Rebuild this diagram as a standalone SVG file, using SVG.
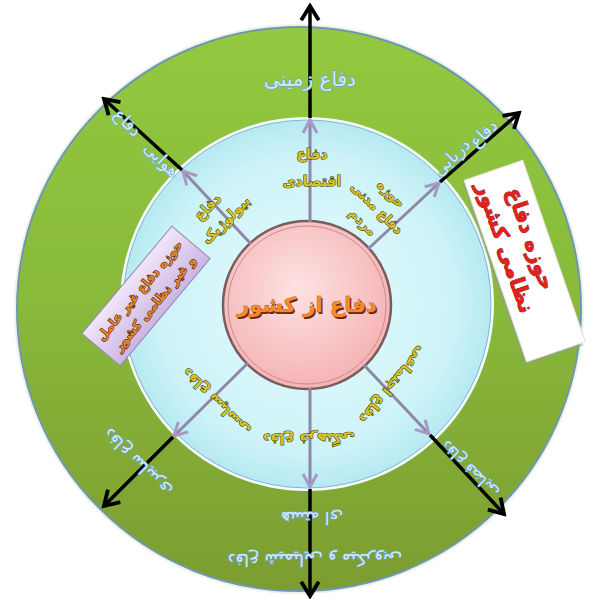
<svg xmlns="http://www.w3.org/2000/svg" width="595" height="600" viewBox="0 0 595 600">
<defs>
<linearGradient id="gOuter" x1="0" y1="0" x2="0" y2="1">
<stop offset="0" stop-color="#93c93f"/>
<stop offset="0.5" stop-color="#88b93a"/>
<stop offset="1" stop-color="#7c9c30"/>
</linearGradient>
<radialGradient id="gInner" cx="0.5" cy="0.5" r="0.5">
<stop offset="0" stop-color="#e6fbfd"/>
<stop offset="0.8" stop-color="#cdf3f8"/>
<stop offset="1" stop-color="#b6e9f2"/>
</radialGradient>
<radialGradient id="gPink" cx="0.45" cy="0.4" r="0.6">
<stop offset="0" stop-color="#fde2e2"/>
<stop offset="1" stop-color="#f5b3b5"/>
</radialGradient>
<linearGradient id="gLav" x1="0" y1="0" x2="0" y2="1">
<stop offset="0" stop-color="#f0e6f8"/>
<stop offset="1" stop-color="#cbb5e2"/>
</linearGradient>
<marker id="mBlack" viewBox="0 0 20 20" refX="17" refY="10" markerWidth="22" markerHeight="22" markerUnits="userSpaceOnUse" orient="auto">
<path d="M4,2 L17,10 L4,18" fill="none" stroke="#000" stroke-width="3.5" stroke-linejoin="miter"/>
</marker>
<marker id="mPurple" viewBox="0 0 20 20" refX="17" refY="10" markerWidth="20" markerHeight="20" markerUnits="userSpaceOnUse" orient="auto">
<path d="M4,3 L17,10 L4,17" fill="none" stroke="#a898c4" stroke-width="3"/>
</marker>
</defs>
<style>
.outerT{font-family:"DejaVu Sans",sans-serif;font-size:17px;fill:#cfe9fb;stroke:#6fa3d2;stroke-width:1.3;paint-order:stroke;text-anchor:middle}
.innerT{font-family:"DejaVu Sans",sans-serif;font-size:14px;font-weight:bold;fill:#d8c52a;stroke:#3d3a05;stroke-width:1.1;paint-order:stroke;text-anchor:middle}
.purpleT{font-family:"DejaVu Sans",sans-serif;font-size:12.5px;font-weight:bold;fill:#e08a2e;stroke:#5b1a08;stroke-width:1.2;paint-order:stroke;text-anchor:middle}
.redT{font-family:"DejaVu Sans",sans-serif;font-size:21px;font-weight:bold;fill:#e3201b;stroke:#7a1010;stroke-width:0.8;paint-order:stroke;text-anchor:middle}
.blackLn{stroke:#000;stroke-width:3.5;fill:none}
.purpleLn{stroke:#8f87a8;stroke-width:3;fill:none}
</style>

<g id="outer-ring">
<circle cx="299" cy="309" r="285" fill="#eef2e4"/>
<circle cx="299" cy="309" r="282" fill="url(#gOuter)" stroke="#6f97b3" stroke-width="2"/>
</g>
<g id="inner-ring">
<circle cx="307" cy="304" r="187" fill="#f4fdff"/>
<circle cx="307" cy="304" r="184" fill="url(#gInner)" stroke="#7fb6c6" stroke-width="1"/>
</g>
<g id="center">
<circle cx="307" cy="305" r="84" fill="url(#gPink)" stroke="#7a5c5c" stroke-width="2.5"/>
<circle cx="307" cy="305" r="79" fill="none" stroke="#c98a8c" stroke-width="1"/>
<text x="308.5" y="313.5" style="font-family:'DejaVu Sans',sans-serif;font-size:21px;font-weight:bold;fill:#6b2a12;text-anchor:middle">دفاع از کشور</text>
<text x="307" y="312" style="font-family:'DejaVu Sans',sans-serif;font-size:21px;font-weight:bold;fill:#f28a2e;stroke:#a0451a;stroke-width:0.6;paint-order:stroke;text-anchor:middle">دفاع از کشور</text>
</g>

<g id="connectors">
<line class="purpleLn" x1="310" y1="222" x2="310" y2="120" marker-end="url(#mPurple)"/>
<line class="blackLn" x1="310" y1="118" x2="310" y2="6" marker-end="url(#mBlack)"/>
<line class="purpleLn" x1="310" y1="388" x2="310" y2="487" marker-end="url(#mPurple)"/>
<line class="blackLn" x1="310" y1="489" x2="310" y2="596" marker-end="url(#mBlack)"/>
<line class="purpleLn" x1="251" y1="244" x2="183" y2="171" marker-end="url(#mPurple)"/>
<line class="blackLn" x1="182" y1="170" x2="104" y2="99" marker-end="url(#mBlack)"/>
<line class="purpleLn" x1="368" y1="249" x2="439" y2="183" marker-end="url(#mPurple)"/>
<line class="blackLn" x1="440" y1="182" x2="519" y2="113" marker-end="url(#mBlack)"/>
<line class="purpleLn" x1="248" y1="363" x2="174" y2="436" marker-end="url(#mPurple)"/>
<line class="blackLn" x1="173" y1="437" x2="104" y2="506" marker-end="url(#mBlack)"/>
<line class="purpleLn" x1="364" y1="365" x2="429" y2="434" marker-end="url(#mPurple)"/>
<line class="blackLn" x1="430" y1="435" x2="504" y2="514" marker-end="url(#mBlack)"/>
</g>

<g id="label-land"><text class="outerT" x="310" y="86" style="font-size:20px">دفاع زمینی</text></g>
<g id="label-air">
<text class="outerT" transform="translate(127,123) rotate(45)" x="0" y="5">دفاع</text>
<text class="outerT" transform="translate(161,160) rotate(45)" x="0" y="5">هوایی</text>
</g>
<g id="label-sea">
<text class="outerT" transform="translate(484,134) rotate(-45)" x="0" y="5">دفاع</text>
<text class="outerT" transform="translate(452,158) rotate(-45)" x="0" y="5">دریایی</text>
</g>
<g id="label-bl-outer"><text class="outerT" transform="translate(138,462) rotate(-135)" x="0" y="5">دفاع سایبری</text></g>
<g id="label-br-outer"><text class="outerT" transform="translate(470,469) rotate(-135)" x="0" y="5" style="font-size:15px">دفاع فضایی</text></g>
<g id="label-bottom-outer">
<text class="outerT" transform="translate(315,560) rotate(180)" x="0" y="6">دفاع شیمیایی و میکروبی</text>
<text class="outerT" transform="translate(312,518) rotate(180)" x="0" y="6">هسته ای</text>
</g>

<g id="label-economic">
<text class="innerT" x="312" y="159">دفاع</text>
<text class="innerT" x="312" y="186">اقتصادی</text>
</g>
<g id="label-bio" transform="translate(218,212) rotate(-45)">
<text class="innerT" x="-4" y="-6">دفاع</text>
<text class="innerT" x="0" y="16">بیولوژیک</text>
</g>
<g id="label-civil" transform="translate(378,207) rotate(45)">
<text class="innerT" x="0" y="-14" style="font-size:13px">حوزه</text>
<text class="innerT" x="0" y="6" style="font-size:13px">دفاع مدنی</text>
<text class="innerT" x="0" y="26" style="font-size:13px">مردم</text>
</g>
<g id="label-political"><text class="innerT" transform="translate(216,402) rotate(-135)" x="0" y="5">دفاع سیاسی</text></g>
<g id="label-cultural"><text class="innerT" transform="translate(309,439) rotate(180)" x="0" y="5">دفاع فرهنگی</text></g>
<g id="label-social"><text class="innerT" transform="translate(393,385) rotate(130)" x="0" y="5">دفاع اجتماعی</text></g>

<g id="box-nonmilitary" transform="translate(146,296) rotate(-50)">
<rect x="-70" y="-25" width="140" height="50" fill="url(#gLav)" stroke="#9b86b8" stroke-width="1"/>
<text class="purpleT" x="0" y="-4">حوزه دفاع غیر عامل</text>
<text class="purpleT" x="0" y="16">و غیر نظامی کشور</text>
</g>
<g id="box-military" transform="translate(525,262) rotate(71)">
<rect x="-94" y="-28" width="192" height="62" fill="#9a9a9a" opacity="0.45"/>
<rect x="-97" y="-31" width="192" height="62" fill="#ffffff" stroke="#e2e2e2" stroke-width="1"/>
<text class="redT" x="-20" y="-6">حوزه دفاع</text>
<text class="redT" x="-20" y="21">نظامی کشور</text>
</g>
</svg>
